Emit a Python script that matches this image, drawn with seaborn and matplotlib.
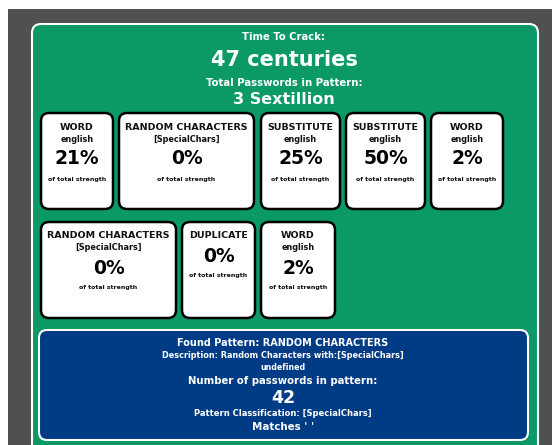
import matplotlib
matplotlib.use('Agg')
import matplotlib.pyplot as plt
from matplotlib.patches import FancyBboxPatch, Rectangle
import seaborn as sns

sns.set_theme(style='white')
plt.rcParams['font.family'] = ['DejaVu Sans']

# header texts
crack_label = 'Time To Crack:'
crack_value = '47 centuries'
total_label = 'Total Passwords in Pattern:'
total_value = '3 Sextillion'

# pattern cards
card_types = ['WORD', 'RANDOM CHARACTERS', 'SUBSTITUTE', 'SUBSTITUTE', 'WORD',
              'RANDOM CHARACTERS', 'DUPLICATE', 'WORD']
card_subs = ['english', '[SpecialChars]', 'english', 'english', 'english',
             '[SpecialChars]', '', 'english']
card_pcts = [21, 0, 25, 50, 2, 0, 0, 2]

# found pattern panel
found_lines = ['Found Pattern: RANDOM CHARACTERS',
               'Description: Random Characters with:[SpecialChars]',
               'undefined',
               'Number of passwords in pattern:',
               '42',
               'Pattern Classification: [SpecialChars]',
               "Matches ' '"]

# layout (pixels)
W, H = 552, 445
card_row = [0, 0, 0, 0, 0, 1, 1, 1]
card_left = [41, 119, 261, 346, 431, 41, 182, 261]
card_width = [72, 135, 79, 79, 72, 135, 73, 74]
row_top = [113, 222]
card_h = 96

GREEN = '#0b9a66'
BLUE = '#003b85'
ASPHALT = '#505050'

fig = plt.figure(figsize=(W / 100, H / 100), dpi=100)
ax = fig.add_axes([0, 0, 1, 1])
ax.set_xlim(0, W)
ax.set_ylim(H, 0)
ax.axis('off')

ax.add_patch(Rectangle((0, 0), W, H, facecolor='white', edgecolor='none'))
ax.add_patch(Rectangle((8, 9), W - 8, H - 9, facecolor=ASPHALT, edgecolor='none'))
ax.add_patch(FancyBboxPatch((32, 24), 506, 440, boxstyle='round,pad=0,rounding_size=9',
                            facecolor=GREEN, edgecolor='white', linewidth=1.5))

cx = 284
ax.text(cx, 37, crack_label, color='white', fontsize=7.2, weight='bold', ha='center', va='center')
ax.text(cx, 60, crack_value, color='white', fontsize=15, weight='bold', ha='center', va='center')
ax.text(cx, 83, total_label, color='white', fontsize=7.3, weight='bold', ha='center', va='center')
ax.text(cx, 99, total_value, color='white', fontsize=11.5, weight='bold', ha='center', va='center')

for t, s, p, r, x, w in zip(card_types, card_subs, card_pcts, card_row, card_left, card_width):
    top = row_top[r]
    ax.add_patch(FancyBboxPatch((x, top), w, card_h, boxstyle='round,pad=0,rounding_size=8',
                                facecolor='white', edgecolor='black', linewidth=1.8))
    mx = x + w / 2
    ax.text(mx, top + 14, t, fontsize=6.8, weight='bold', ha='center', va='center', color='#111111')
    if s:
        ax.text(mx, top + 26, s, fontsize=5.9, weight='bold', ha='center', va='center', color='#111111')
        yp, yf = top + 46, top + 66
    else:
        yp, yf = top + 34, top + 53
    ax.text(mx, yp, f'{p}%', fontsize=13.5, weight='bold', ha='center', va='center', color='black')
    ax.text(mx, yf, 'of total strength', fontsize=4.5, weight='bold', ha='center', va='center',
            color='#111111')

ax.add_patch(FancyBboxPatch((39, 330), 489, 110, boxstyle='round,pad=0,rounding_size=8',
                            facecolor=BLUE, edgecolor='white', linewidth=1.5))
line_y = [343, 356, 368, 381, 398, 414, 427]
line_fs = [7.0, 5.9, 5.7, 7.3, 12.5, 6.0, 7.4]
for txt, y, fs in zip(found_lines, line_y, line_fs):
    ax.text(283, y, txt, color='white', fontsize=fs, weight='bold', ha='center', va='center')

fig.savefig('out.png', dpi=100)
